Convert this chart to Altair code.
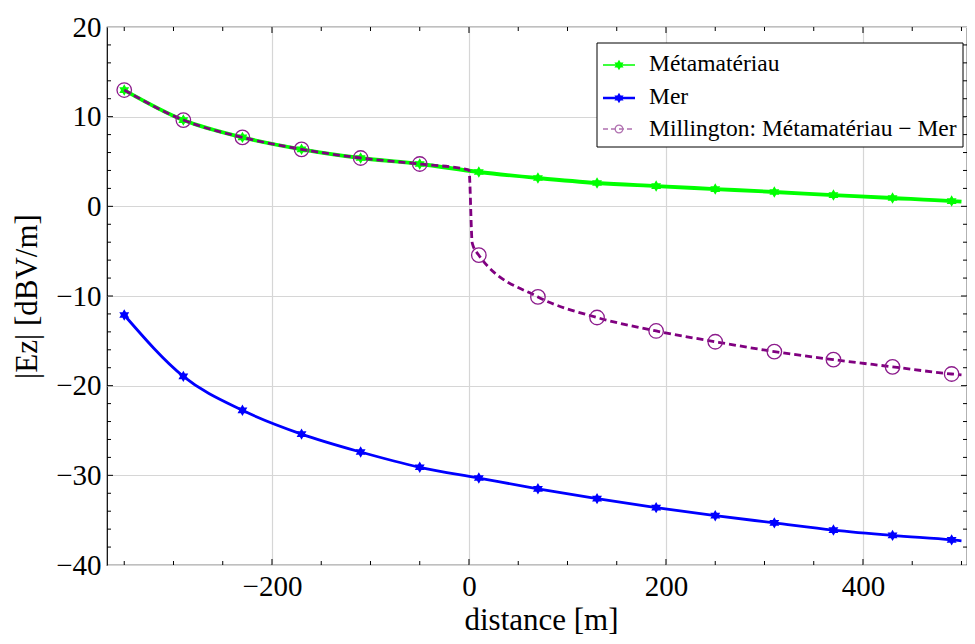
import altair as alt
import pandas as pd

# ---------------- data ----------------
series_names = ["Métamatériau", "Mer", "Millington: Métamatériau − Mer"]
series_colors = ["#00ff00", "#0000ff", "#800080"]
marker_colors = ["#00ff00", "#0000ff", "#8b1a8b"]

marker_x = [-350, -290, -230, -170, -110, -50, 10, 70, 130, 190, 250, 310, 370, 430, 490]
meta_marker_y = [12.97, 9.62, 7.69, 6.36, 5.39, 4.72, 3.83, 3.16, 2.60, 2.26, 1.93, 1.60, 1.26, 0.93, 0.59]
mer_marker_y = [-12.12, -18.96, -22.75, -25.40, -27.40, -29.10, -30.30, -31.50, -32.60, -33.60, -34.50, -35.30, -36.10, -36.70, -37.20]
mill_marker_y = [12.97, 9.62, 7.69, 6.36, 5.39, 4.72, -5.45, -10.10, -12.40, -13.90, -15.10, -16.20, -17.10, -17.90, -18.70]

# extra points (between / beyond the markers)
meta_extra_x = [500]
meta_extra_y = [0.52]
mer_extra_x = [500]
mer_extra_y = [-37.30]
mill_extra_x = [0, 3.3, 500]
mill_extra_y = [4.05, -4.10, -18.80]

x_major = [-200, 0, 200, 400]
x_minor = [-350, -300, -250, -150, -100, -50, 50, 100, 150, 250, 300, 350, 450, 500]
y_labels = [-40, -30, -20, -10, 0, 10, 20]
y_major = [-30, -20, -10, 0, 10]
y_minor = [v for v in range(-38, 20, 2) if v % 10 != 0]

# ---------------- layout ----------------
W, H = 860, 538
FONT = "Liberation Serif"
X_DOMAIN = [-367.5, 505.6]
Y_DOMAIN = [-40, 20]

xscale = alt.Scale(domain=X_DOMAIN, nice=False, zero=False)
yscale = alt.Scale(domain=Y_DOMAIN, nice=False, zero=False)

xaxis = alt.Axis(values=x_major, grid=True, gridColor="#d6d6d6", gridWidth=1.2,
                 ticks=False, domain=False, labelFont=FONT, labelFontSize=29,
                 labelColor="black", labelPadding=7, labelFlush=False, labelOverlap=False,
                 title="distance [m]", titleFont=FONT, titleFontSize=31,
                 titleFontWeight="normal", titleColor="black",
                 titleX=434, titleY=64, titleBaseline="alphabetic")
yaxis = alt.Axis(values=y_labels, grid=True, gridColor="#d6d6d6", gridWidth=1.2,
                 ticks=False, domain=False, labelFont=FONT, labelFontSize=29,
                 labelColor="black", labelPadding=6, labelFlush=False, labelOverlap=False,
                 title="|Ez| [dBV/m]", titleFont=FONT, titleFontSize=31,
                 titleFontWeight="normal", titleColor="black",
                 titleX=-80, titleY=H / 2, titleAngle=270,
                 titleBaseline="middle", titleAlign="center")

X = lambda: alt.X("x:Q", scale=xscale, axis=xaxis)
Y = lambda: alt.Y("y:Q", scale=yscale, axis=yaxis)

def line_df(mx, my, ex, ey):
    df = pd.DataFrame({"x": list(mx) + list(ex), "y": list(my) + list(ey)})
    return df.sort_values("x").reset_index(drop=True)

meta_line = line_df(marker_x, meta_marker_y, meta_extra_x, meta_extra_y)
mer_line = line_df(marker_x, mer_marker_y, mer_extra_x, mer_extra_y)
mill_line = line_df(marker_x, mill_marker_y, mill_extra_x, mill_extra_y)

meta_pts = pd.DataFrame({"x": marker_x, "y": meta_marker_y})
mer_pts = pd.DataFrame({"x": marker_x, "y": mer_marker_y})
mill_pts = pd.DataFrame({"x": marker_x, "y": mill_marker_y})

STAR = "M0,-1L0.866,0.5L-0.866,0.5Z M0,1L-0.866,-0.5L0.866,-0.5Z"

layers = []

# frame ticks (inward, Mathematica style)
def xticks(vals, length):
    df = pd.DataFrame({"x": vals})
    base = alt.Chart(df).mark_rule(color="black", strokeWidth=1)
    return [
        base.encode(x=X(), y=alt.value(H), y2=alt.value(H - length)),
        base.encode(x=X(), y=alt.value(0), y2=alt.value(length)),
    ]

def yticks(vals, length):
    df = pd.DataFrame({"y": vals})
    base = alt.Chart(df).mark_rule(color="black", strokeWidth=1)
    return [
        base.encode(y=Y(), x=alt.value(0), x2=alt.value(length)),
        base.encode(y=Y(), x=alt.value(W), x2=alt.value(W - length)),
    ]

# series
layers.append(alt.Chart(meta_line).mark_line(color=series_colors[0], strokeWidth=3.8,
                                              interpolate="monotone").encode(x=X(), y=Y()))
layers.append(alt.Chart(meta_pts).mark_point(shape=STAR, size=130, filled=True, opacity=1,
                                             color=marker_colors[0]).encode(x=X(), y=Y()))
layers.append(alt.Chart(mer_line).mark_line(color=series_colors[1], strokeWidth=2.8,
                                            interpolate="monotone").encode(x=X(), y=Y()))
layers.append(alt.Chart(mer_pts).mark_point(shape=STAR, size=130, filled=True, opacity=1,
                                            color=marker_colors[1]).encode(x=X(), y=Y()))
layers.append(alt.Chart(mill_line).mark_line(color=series_colors[2], strokeWidth=2.8,
                                             strokeDash=[7, 4],
                                             interpolate="monotone").encode(x=X(), y=Y()))
layers.append(alt.Chart(mill_pts).mark_point(shape="circle", size=210, filled=False, opacity=1,
                                             stroke=marker_colors[2], strokeWidth=1.3
                                             ).encode(x=X(), y=Y()))

layers += xticks(x_major, 6) + xticks(x_minor, 4) + yticks(y_major, 6) + yticks(y_minor, 4)

# legend (drawn in the plot's pixel frame)
one = pd.DataFrame({"k": [0]})
layers.append(alt.Chart(one).mark_rect(fill="white", stroke="black", strokeWidth=1).encode(
    x=alt.value(490), x2=alt.value(856), y=alt.value(16), y2=alt.value(120)))
row_line_y = [38, 71, 102]
row_text_y = [44, 77, 109]
for i, name in enumerate(series_names):
    dash = [5, 3] if i == 2 else [1, 0]
    layers.append(alt.Chart(one).mark_rule(color=series_colors[i] if i < 2 else "#b070b0",
                                           strokeWidth=2.5 if i == 1 else 1.3,
                                           strokeDash=dash).encode(
        x=alt.value(496), x2=alt.value(528), y=alt.value(row_line_y[i])))
    if i < 2:
        layers.append(alt.Chart(one).mark_point(shape=STAR, size=110, filled=True, opacity=1,
                                                color=marker_colors[i]).encode(
            x=alt.value(512), y=alt.value(row_line_y[i])))
    else:
        layers.append(alt.Chart(one).mark_point(shape="circle", size=60, filled=False, opacity=1,
                                                stroke="#b070b0", strokeWidth=1.2).encode(
            x=alt.value(512), y=alt.value(row_line_y[i])))
    layers.append(alt.Chart(one).mark_text(font=FONT, fontSize=23.5, align="left",
                                           baseline="alphabetic", color="black").encode(
        x=alt.value(542), y=alt.value(row_text_y[i]), text=alt.value(name)))

chart = alt.layer(*layers).properties(
    width=W, height=H,
    autosize=alt.AutoSizeParams(type="none"),
    padding={"left": 99, "top": 19, "right": 0, "bottom": 71},
).configure(
    background="white", font=FONT
).configure_axis(
    labelFont=FONT, titleFont=FONT, labelFontSize=29, labelColor="black"
).configure_text(font=FONT).configure_view(stroke="black", strokeWidth=1.2)

chart.save("out.html", embed_options={"renderer": "svg", "actions": False})
